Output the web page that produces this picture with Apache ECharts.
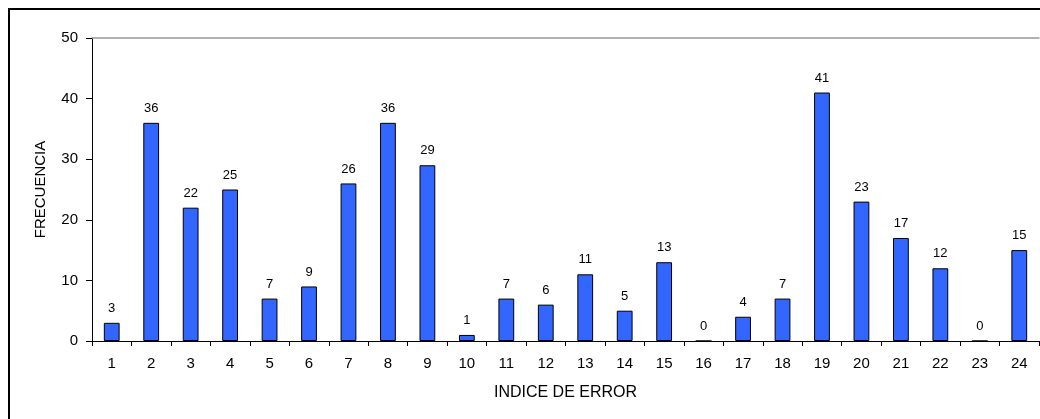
<!DOCTYPE html>
<html>
<head>
<meta charset="utf-8">
<script src="https://cdn.jsdelivr.net/npm/echarts@6/dist/echarts.min.js"></script>
<style>
  html, body { margin: 0; padding: 0; background: #fff; }
  #chart { width: 1040px; height: 419px; }
</style>
</head>
<body>
<div id="chart"></div>
<script>
// chart data
var categories = ['1','2','3','4','5','6','7','8','9','10','11','12','13','14','15','16','17','18','19','20','21','22','23','24']
var frecuencia = [3, 36, 22, 25, 7, 9, 26, 36, 29, 1, 7, 6, 11, 5, 13, 0, 4, 7, 41, 23, 17, 12, 0, 15]
var xTitle = 'INDICE DE ERROR'
var yTitle = 'FRECUENCIA'

var font = '"Liberation Sans", Arial, sans-serif'
var chart = echarts.init(document.getElementById('chart'))

chart.setOption({
    animation: false,
    backgroundColor: '#fff',
    textStyle: { fontFamily: font },
    grid: { left: 92, top: 38, right: 1, bottom: 78 },
    graphic: [{
        type: 'rect',
        shape: { x: 9, y: 9, width: 1200, height: 600 },
        style: { fill: null, stroke: '#000', lineWidth: 2 },
        silent: true
    }],
    xAxis: [{
        type: 'category',
        data: categories,
        name: xTitle,
        nameLocation: 'middle',
        nameGap: 44,
        nameTextStyle: { fontSize: 16, color: '#000', fontFamily: font },
        axisLine: { lineStyle: { color: '#000', width: 1 } },
        axisTick: { show: true, alignWithLabel: false, length: 5, lineStyle: { color: '#000' } },
        axisLabel: { fontSize: 15, color: '#000', margin: 15, fontFamily: font }
    }, {
        type: 'category',
        data: categories,
        position: 'top',
        axisLine: { lineStyle: { color: '#999', width: 1.5 } },
        axisTick: { show: false },
        axisLabel: { show: false }
    }],
    yAxis: {
        type: 'value',
        min: 0,
        max: 50,
        interval: 10,
        name: yTitle,
        nameLocation: 'middle',
        nameGap: 44,
        nameTextStyle: { fontSize: 15, color: '#000', fontFamily: font },
        axisLine: { show: true, lineStyle: { color: '#000', width: 1 } },
        axisTick: { show: true, length: 6, lineStyle: { color: '#000' } },
        axisLabel: { fontSize: 15, color: '#000', margin: 14, fontFamily: font },
        splitLine: { show: false }
    },
    series: [{
        type: 'bar',
        data: frecuencia,
        barWidth: '40%',
        itemStyle: { color: '#3366FF', borderColor: '#000', borderWidth: 1 },
        label: {
            show: true,
            position: 'top',
            distance: 8,
            fontSize: 13,
            color: '#000',
            fontFamily: font
        }
    }]
})
</script>
</body>
</html>
